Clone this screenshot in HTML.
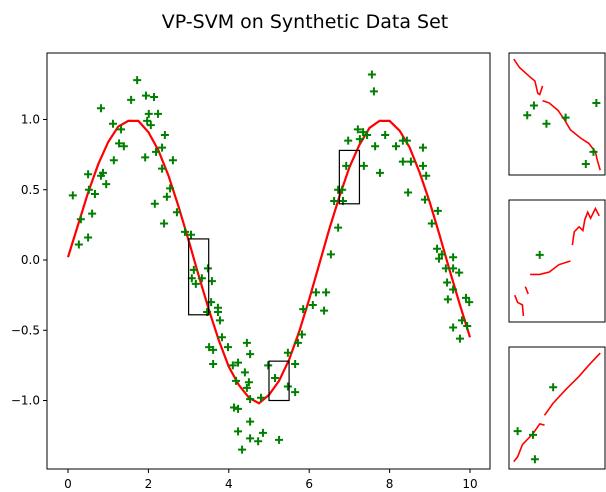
<!DOCTYPE html>
<html><head><meta charset="utf-8"><style>
html,body{margin:0;padding:0;background:#fff;width:606px;height:492px;overflow:hidden}
svg{display:block;font-family:"DejaVu Sans","Liberation Sans",sans-serif}
</style></head><body>
<svg id="chart" width="606" height="492" viewBox="0 0 606 492">
<text x="305" y="28" font-size="19" text-anchor="middle">VP-SVM on Synthetic Data Set</text>
</svg>
<script>
const curveX=[0,0.25,0.5,0.75,1,1.25,1.5,1.75,2,2.25,2.5,2.75,3,3.25,3.5,3.75,4,4.25,4.5,4.75,5,5.25,5.5,5.75,6,6.25,6.5,6.75,7,7.25,7.5,7.75,8,8.25,8.5,8.75,9,9.25,9.5,9.75,10];
const curveY=[0.02,0.25,0.48,0.68,0.84,0.95,0.99,0.99,0.91,0.78,0.6,0.38,0.14,-0.11,-0.35,-0.57,-0.76,-0.89,-0.98,-1.02,-0.96,-0.86,-0.71,-0.51,-0.28,-0.03,0.22,0.45,0.66,0.82,0.94,0.99,0.99,0.92,0.8,0.62,0.41,0.17,-0.08,-0.32,-0.55];
const ptsX=[1.72,1.57,1.94,2.14,0.82,1.12,1.32,2.01,2.24,1.97,2.06,2.41,1.27,1.39,2.34,2.19,1.92,2.61,1.14,2.34,0.5,0.87,0.82,0.95,0.52,0.12,0.67,2.46,2.16,2.54,0.6,0.32,2.39,2.71,0.5,0.27,2.91,3.06,
3.13,3.48,3.08,3.33,3.58,3.18,3.56,3.46,3.73,3.73,3.78,3.83,3.51,3.61,3.98,4.45,4.53,3.61,4.1,4.23,4.4,4.18,4.5,4.45,4.53,4.8,4.98,5.15,5.47,5.65,5.47,5.65,4.13,4.23,4.53,4.23,4.85,4.53,4.73,5.25,4.33,5.85,6.09,6.37,6.17,6.42,5.82,5.72,
7.56,7.61,7.21,7.34,7.44,6.97,7.26,7.89,7.64,8.16,8.33,8.43,8.83,8.33,8.53,8.83,8.91,6.92,7.36,7.76,8.46,6.72,6.82,6.62,6.84,8.88,9.2,9.05,6.72,6.54,9.18,9.3,9.58,9.23,9.4,9.58,9.73,9.43,9.58,9.45,9.9,9.98,9.8,9.93,9.58,9.75];
const ptsY=[1.28,1.14,1.17,1.16,1.08,0.97,0.93,1.04,1.04,0.99,0.96,0.89,0.83,0.81,0.8,0.77,0.73,0.71,0.71,0.65,0.61,0.62,0.6,0.54,0.5,0.46,0.47,0.45,0.4,0.51,0.33,0.29,0.26,0.34,0.16,0.11,0.2,0.18,
-0.07,-0.06,-0.13,-0.13,-0.15,-0.17,-0.3,-0.37,-0.34,-0.37,-0.43,-0.55,-0.62,-0.64,-0.62,-0.59,-0.67,-0.74,-0.75,-0.73,-0.8,-0.86,-0.87,-0.91,-0.99,-0.98,-0.75,-0.84,-0.66,-0.74,-0.9,-0.94,-1.05,-1.06,-1.15,-1.22,-1.23,-1.27,-1.29,-1.28,-1.35,-0.35,-0.32,-0.36,-0.23,-0.23,-0.53,-0.59,
1.32,1.2,0.93,0.91,0.89,0.85,0.86,0.89,0.81,0.81,0.85,0.85,0.8,0.7,0.7,0.67,0.6,0.67,0.67,0.62,0.48,0.5,0.5,0.42,0.42,0.43,0.35,0.26,0.23,0.04,0.08,0.04,0.02,0.01,-0.06,-0.06,-0.09,-0.16,-0.21,-0.28,-0.27,-0.3,-0.43,-0.47,-0.48,-0.56];
const boxX0=[3.0,5.0,6.75], boxX1=[3.5,5.5,7.25], boxY0=[0.15,-0.72,0.78], boxY1=[-0.39,-1.0,0.4];
const xTicks=[0,2,4,6,8,10], xTickLabels=["0","2","4","6","8","10"];
const yTicks=[1,0.5,0,-0.5,-1], yTickLabels=["1.0","0.5","0.0","−0.5","−1.0"];
// inset data (fractions of inset box)
const inset1Curves=[[[0.05,0.05],[0.11,0.12],[0.21,0.19],[0.27,0.23],[0.3,0.33],[0.32,0.34],[0.35,0.27]],[[0.35,0.39],[0.42,0.41],[0.51,0.47],[0.58,0.55],[0.64,0.63],[0.75,0.7],[0.83,0.74],[0.9,0.81],[0.92,0.88],[0.95,0.96]]];
const inset1Pts=[[0.26,0.43],[0.19,0.51],[0.39,0.58],[0.59,0.53],[0.91,0.41],[0.88,0.81],[0.8,0.91]];
const inset2Curves=[[[0.06,0.78],[0.09,0.84],[0.14,0.86],[0.15,0.95]],[[0.17,0.71],[0.2,0.77]],[[0.22,0.61],[0.32,0.61],[0.42,0.59],[0.52,0.53],[0.64,0.5]],[[0.66,0.37],[0.68,0.26],[0.73,0.22],[0.77,0.25],[0.79,0.16],[0.82,0.1],[0.85,0.15],[0.9,0.07],[0.94,0.13]]];
const inset2Pts=[[0.32,0.45]];
const inset3Curves=[[[0.05,0.94],[0.09,0.9],[0.14,0.8],[0.25,0.71],[0.32,0.63],[0.37,0.64]],[[0.37,0.56],[0.46,0.46],[0.59,0.35],[0.73,0.24],[0.83,0.15],[0.95,0.05]]];
const inset3Pts=[[0.46,0.33],[0.09,0.69],[0.25,0.72],[0.27,0.92]];

const NS="http://www.w3.org/2000/svg", svg=document.getElementById('chart');
const X=v=>68+v*40.2, Y=v=>260-v*140.5;
function mk(t,a,p){const e=document.createElementNS(NS,t);for(const k in a)e.setAttribute(k,a[k]);(p||svg).appendChild(e);return e;}
function plus(g,cx,cy){return mk('path',{d:`M${cx-4},${cy}h8M${cx},${cy-4}v8`,stroke:'#008000','stroke-width':2,fill:'none'},g);}

const ax=mk('g',{});


const frame=mk('rect',{x:47,y:53,width:443,height:416,fill:'none',stroke:'#000','stroke-width':1},ax);


xTicks.forEach((t,i)=>{mk('line',{x1:X(t),x2:X(t),y1:469,y2:473,stroke:'#000'},ax);
 const tx=mk('text',{x:X(t),y:488,'font-size':12,'text-anchor':'middle'},ax);tx.textContent=xTickLabels[i];
 
 });
yTicks.forEach((t,i)=>{mk('line',{x1:43,x2:47,y1:Y(t),y2:Y(t),stroke:'#000'},ax);
 const tx=mk('text',{x:40,y:Y(t)+4,'font-size':12,'text-anchor':'end'},ax);tx.textContent=yTickLabels[i];
 
 });
const line=mk('polyline',{points:curveX.map((x,i)=>X(x)+','+Y(curveY[i])).join(' '),fill:'none',stroke:'#f00','stroke-width':2.2},ax);


const pg=mk('g',{},ax);


ptsX.forEach((x,i)=>plus(pg,X(x),Y(ptsY[i])));
boxX0.forEach((b,i)=>{const r=mk('rect',{x:X(b),y:Y(boxY0[i]),width:X(boxX1[i])-X(b),height:Y(boxY1[i])-Y(boxY0[i]),fill:'none',stroke:'#000','stroke-width':1.2},ax);
 
 });

function inset(name,y0,curves,pts){
 const g=mk('g',{});
 
 
 const x0=509,w=96,h=122;
 mk('rect',{x:x0,y:y0,width:w,height:h,fill:'none',stroke:'#000'},g);
 curves.forEach(c=>mk('polyline',{points:c.map(p=>(x0+p[0]*w)+','+(y0+p[1]*h)).join(' '),fill:'none',stroke:'#f00','stroke-width':1.6},g));
 pts.forEach(p=>plus(g,x0+p[0]*w,y0+p[1]*h));
}
inset('inset-1',53,inset1Curves,inset1Pts);
inset('inset-2',200,inset2Curves,inset2Pts);
inset('inset-3',347,inset3Curves,inset3Pts);
</script>
</body></html>
